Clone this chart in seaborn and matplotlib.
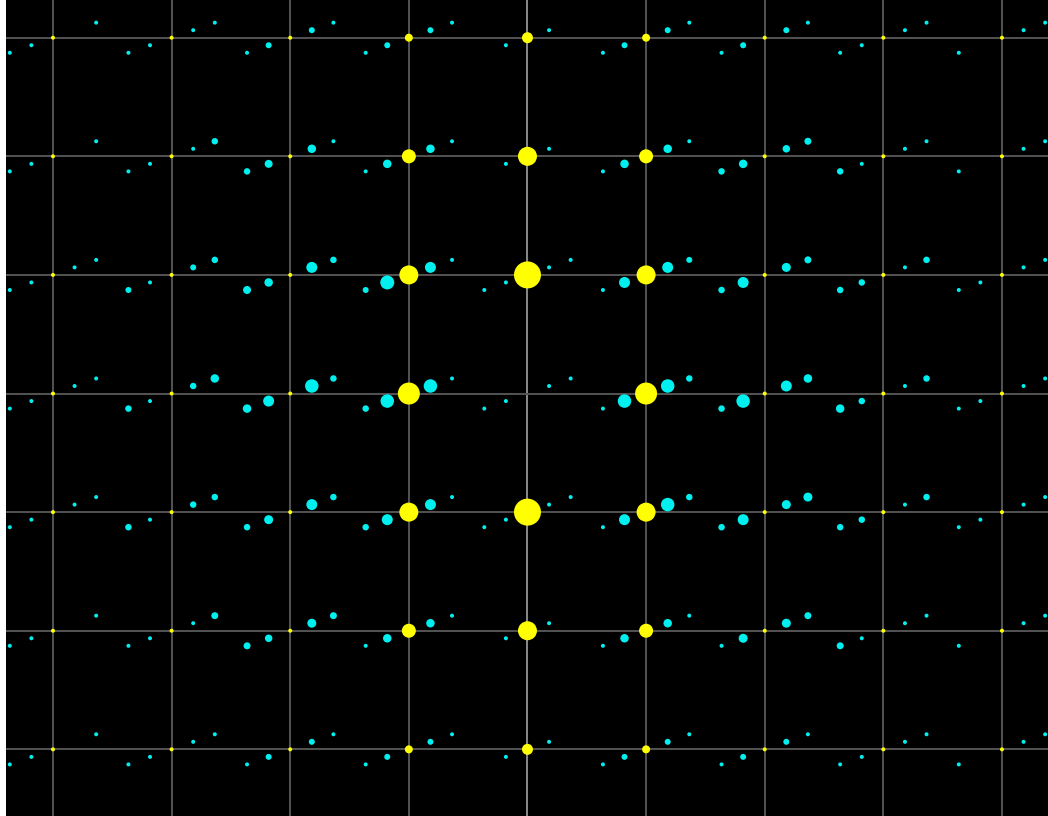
import numpy as np
import pandas as pd
import matplotlib
matplotlib.use('Agg')
import matplotlib.pyplot as plt
import seaborn as sns

'''
Diffraction pattern: main reflections (yellow) on the h,k grid and
modulation satellites (cyan) at h,k + m*q, m = -2..2.
Numbers below are spot diameters in pixels, read from the picture, 0 = no spot
'''

h_values = [-4, -3, -2, -1, 0, 1, 2, 3, 4]
k_values = [3, 2, 1, 0, -1, -2, -3]
q_vector = (0.182, 0.0635)

main_spots = [
    [4, 4, 4, 8, 11, 8, 4, 4, 4],
    [4, 4, 4, 14, 19, 14, 4, 4, 4],
    [4, 4, 4, 19, 27, 19, 4, 4, 4],
    [4, 4, 4, 22, 0, 22, 4, 4, 4],
    [4, 4, 4, 19, 27, 19, 4, 4, 4],
    [4, 4, 4, 14, 19, 14, 4, 4, 4],
    [4, 4, 4, 8, 11, 8, 4, 4, 4],
]

sat_minus2 = [
    [4, 4, 4, 4, 0, 4, 4, 4, 4],
    [4, 4, 6.5, 4, 0, 4, 6.5, 6.5, 4],
    [4, 6, 8, 6, 4, 4, 6.5, 6.5, 4],
    [4, 6.5, 8.5, 6.5, 4, 4, 6.5, 8.5, 4],
    [4, 6.5, 6.5, 6.5, 4, 4, 6.5, 6.5, 4],
    [4, 4, 7, 4, 0, 4, 4, 7, 4],
    [4, 4, 4, 4, 0, 4, 4, 4, 4],
]

sat_minus1 = [
    [4, 4, 6, 6, 4, 6, 6, 4, 0],
    [4, 4, 8, 8.5, 4, 8.5, 8.5, 4, 0],
    [4, 4, 8.5, 14, 4, 11, 11, 6.5, 4],
    [4, 4, 11, 13.5, 4, 13.5, 13.5, 6.5, 4],
    [4, 4, 9, 11, 4, 11, 11, 6.5, 4],
    [4, 4, 7.5, 8.5, 4, 8.5, 9, 4, 0],
    [4, 4, 6, 6, 4, 6, 6, 4, 0],
]

sat_plus1 = [
    [0, 4, 6, 6, 4, 6, 6, 4, 4],
    [0, 4, 8.5, 8.5, 4, 8.5, 7.5, 4, 4],
    [4, 6, 11, 11, 4, 11, 9, 4, 4],
    [4, 6.5, 13.5, 13.5, 4, 13.5, 11, 4, 4],
    [4, 6.5, 11, 11, 4, 13.5, 9, 4, 4],
    [0, 4, 9, 8.5, 4, 8.5, 9, 4, 4],
    [0, 4, 6, 6, 4, 6, 6, 4, 4],
]

sat_plus2 = [
    [4, 4, 4, 4, 0, 4, 4, 4, 4],
    [4, 6.5, 4, 4, 0, 4, 7, 4, 4],
    [4, 6.5, 6.5, 4, 4, 6, 7, 6.5, 4],
    [4, 8.5, 6.5, 4, 4, 6.5, 8.5, 6.5, 4],
    [4, 6.5, 6.5, 4, 4, 6.5, 9, 6.5, 4],
    [4, 7, 7, 4, 0, 4, 7, 4, 4],
    [4, 4, 4, 4, 0, 4, 4, 4, 4],
]


def build_spots(table, m):
    rows = []
    for i, k in enumerate(k_values):
        for j, h in enumerate(h_values):
            d = table[i][j]
            if d <= 0:
                continue
            rows.append({'x': h + m * q_vector[0],
                         'y': k + m * q_vector[1],
                         'area': (0.72 * d) ** 2})
    return pd.DataFrame(rows)


def draw_spots(ax, df, color):
    a_min, a_max = df['area'].min(), df['area'].max()
    sns.scatterplot(data=df, x='x', y='y', size='area',
                    sizes=(a_min, a_max), size_norm=(a_min, a_max),
                    color=color, linewidth=0, legend=False, ax=ax,
                    zorder=3)


if __name__ == '__main__':
    fig = plt.figure(figsize=(10.48, 8.16), dpi=100, facecolor='white')
    ax = fig.add_axes([6 / 1048, 0, 1042 / 1048, 1])
    ax.set_facecolor('black')

    satellites = pd.concat([build_spots(sat_minus2, -2),
                            build_spots(sat_minus1, -1),
                            build_spots(sat_plus1, 1),
                            build_spots(sat_plus2, 2)], ignore_index=True)
    main = build_spots(main_spots, 0)

    draw_spots(ax, satellites, '#00f0f0')
    draw_spots(ax, main, '#ffff00')

    # сетка по целым h, k
    for h in h_values:
        ax.axvline(h, color='#8a8a8a' if h == 0 else '#545454',
                   lw=1.4, zorder=1)
    for k in k_values:
        ax.axhline(k, color='#545454', lw=1.4, zorder=1)

    ax.set_xlim(-4.396, 4.388)
    ax.set_ylim(-3.562, 3.318)
    ax.set_xlabel('')
    ax.set_ylabel('')
    ax.set_xticks([])
    ax.set_yticks([])
    for s in ax.spines.values():
        s.set_visible(False)

    fig.savefig('out.png', dpi=100, facecolor=fig.get_facecolor())
